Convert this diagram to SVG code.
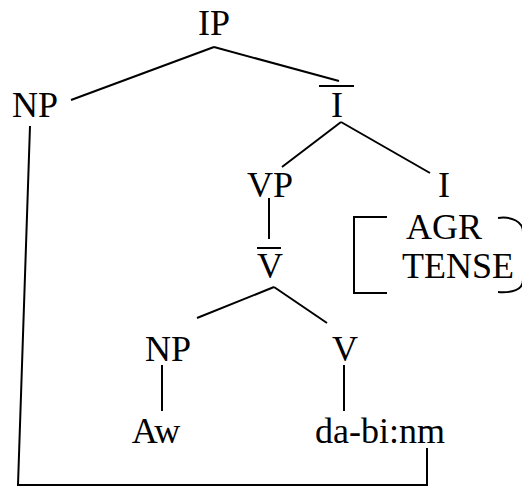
<svg xmlns="http://www.w3.org/2000/svg" width="522" height="487" viewBox="0 0 522 487">
<style>
text{font-family:"Liberation Serif","Times New Roman",serif;font-size:36px;fill:#000;text-anchor:middle}
.l{stroke:#000;stroke-width:2;fill:none}
</style>
<rect width="522" height="487" fill="#fff"/>
<g id="connectors" class="l">
<line x1="214" y1="47" x2="71" y2="100"/>
<line x1="214" y1="47" x2="339" y2="81"/>
<line x1="341" y1="122" x2="282" y2="167"/>
<line x1="341" y1="122" x2="430" y2="173"/>
<line x1="269" y1="198" x2="269" y2="239"/>
<line x1="274" y1="287" x2="197" y2="318"/>
<line x1="274" y1="287" x2="327" y2="323"/>
<line x1="162" y1="365" x2="162" y2="411"/>
<line x1="344" y1="365" x2="344" y2="411"/>
<polyline points="30,126 18,485 427,485 427,448"/>
</g>
<g id="IP"><text x="214" y="35">IP</text></g>
<g id="NP1"><text x="35" y="117">NP</text></g>
<g id="Ibar"><line class="l" x1="319" y1="86" x2="354" y2="86"/><text x="337" y="117">I</text></g>
<g id="VP"><text x="270" y="197">VP</text></g>
<g id="I"><text x="444" y="197">I</text></g>
<g id="features">
<path class="l" d="M387,217 H354 V293 H387"/>
<path class="l" d="M498,218 C512,216 523,222 523,232 V280 C523,290 512,293 498,292"/>
<text x="444" y="239">AGR</text>
<text x="458" y="278">TENSE</text>
</g>
<g id="Vbar"><line class="l" x1="257" y1="248" x2="281" y2="248"/><text x="270" y="278">V</text></g>
<g id="NP2"><text x="168" y="361">NP</text></g>
<g id="V"><text x="345" y="361">V</text></g>
<g id="Aw"><text x="156" y="443">Aw</text></g>
<g id="dabinm"><text x="380" y="443">da-bi:nm</text></g>
</svg>
